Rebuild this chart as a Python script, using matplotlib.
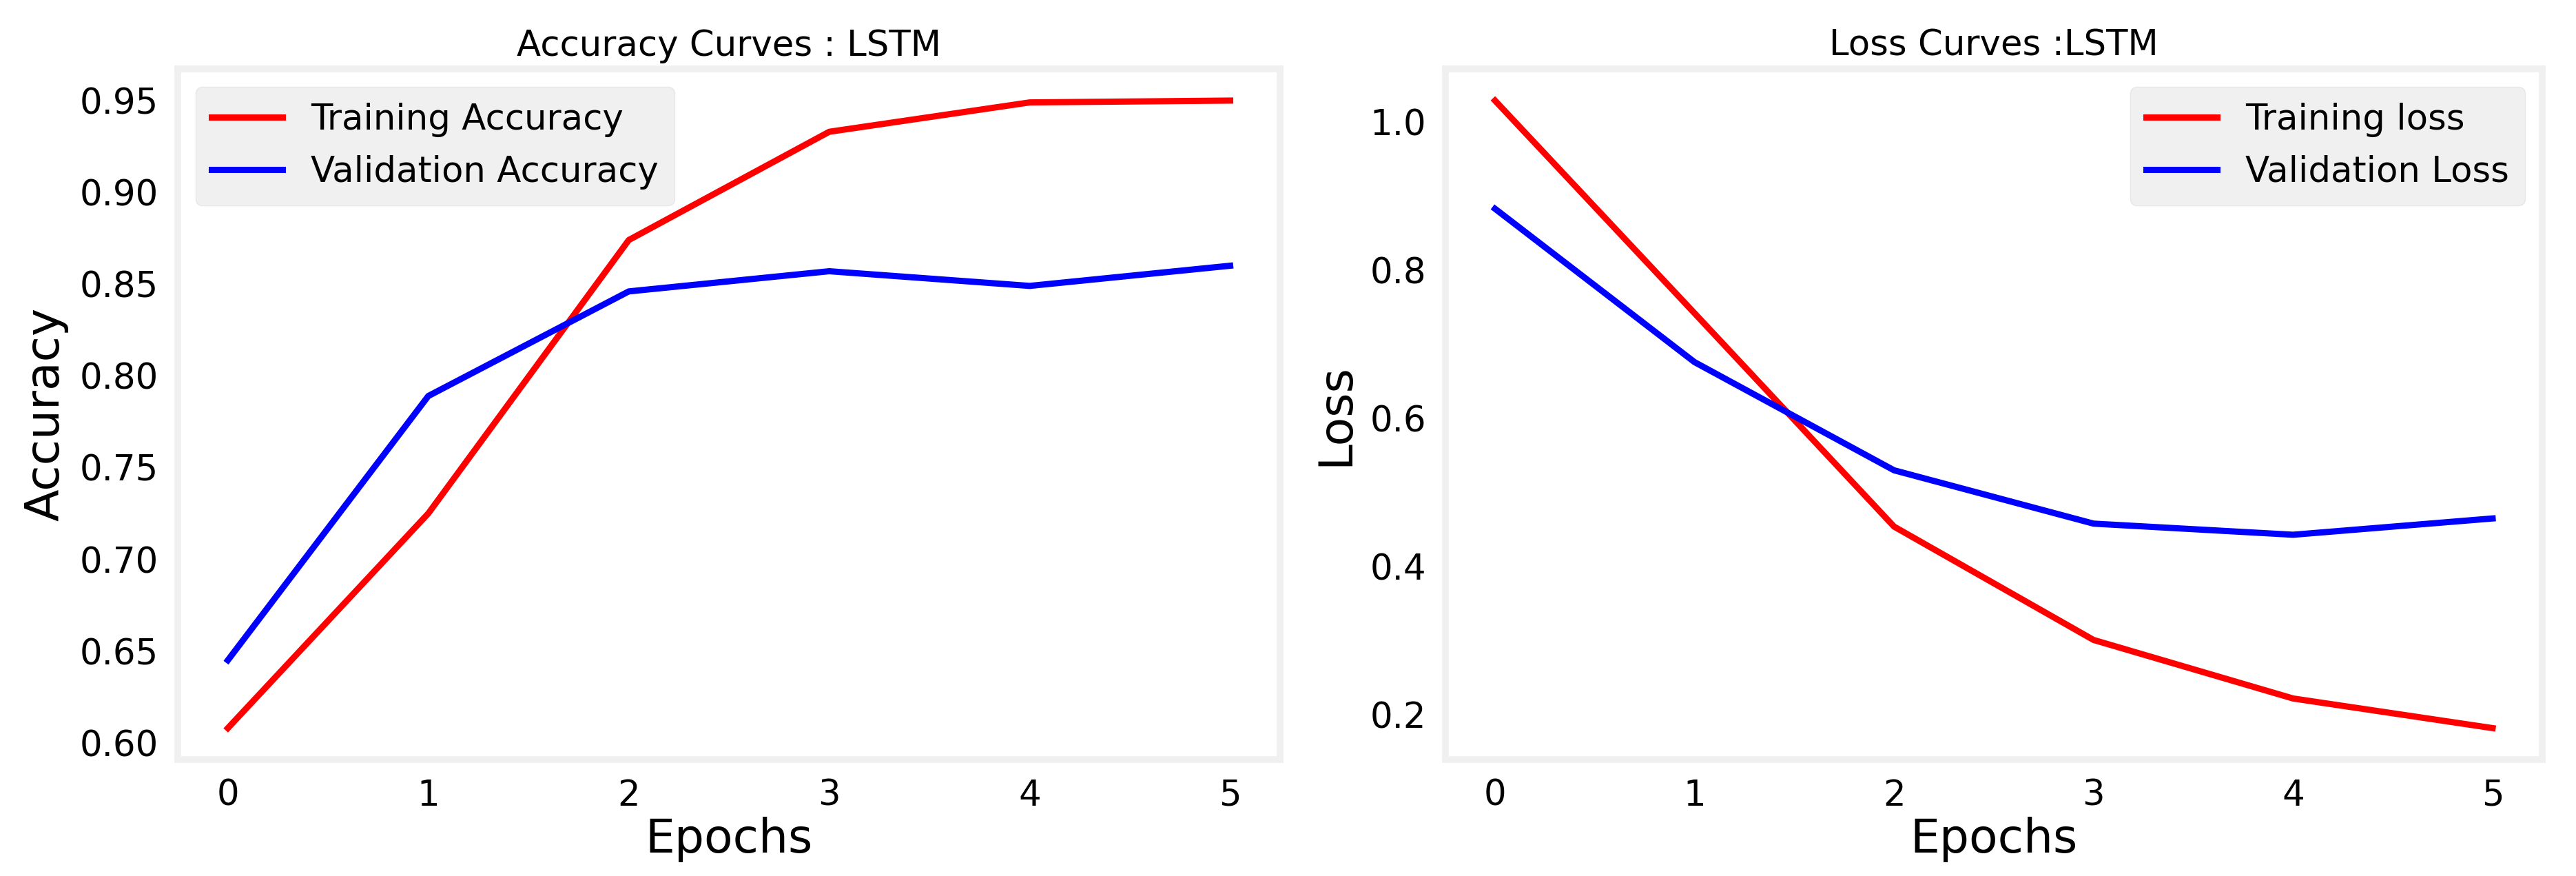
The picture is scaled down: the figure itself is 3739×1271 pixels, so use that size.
import matplotlib
matplotlib.use('Agg')
import matplotlib.pyplot as plt

epochs = [0, 1, 2, 3, 4, 5]
train_acc = [0.608, 0.725, 0.874, 0.933, 0.949, 0.950]
val_acc = [0.645, 0.789, 0.846, 0.857, 0.849, 0.860]
train_loss = [1.029, 0.742, 0.454, 0.301, 0.222, 0.182]
val_loss = [0.883, 0.676, 0.530, 0.458, 0.443, 0.465]

plt.rcParams['font.family'] = ['DejaVu Sans']
fig = plt.figure(figsize=(37.39, 12.71), dpi=100, facecolor='white')
ax1 = fig.add_axes([0.069, 0.133, 0.428, 0.788])
ax2 = fig.add_axes([0.561, 0.133, 0.426, 0.788])

def style(ax):
    ax.set_facecolor('white')
    for s in ax.spines.values():
        s.set_color('#f0f0f0')
        s.set_linewidth(7)
    ax.tick_params(length=0, labelsize=37, pad=20)
    ax.grid(False)

ax1.plot(epochs, train_acc, color='red', lw=6.5, label='Training Accuracy')
ax1.plot(epochs, val_acc, color='blue', lw=6.5, label='Validation Accuracy')
ax1.set_title('Accuracy Curves : LSTM', fontsize=37, pad=14)
ax1.set_xlabel('Epochs', fontsize=49, labelpad=4)
ax1.set_ylabel('Accuracy', fontsize=49, labelpad=12)
style(ax1)
ax1.legend(loc='upper left', fontsize=37, facecolor='#f0f0f0', edgecolor='#e6e6e6',
           framealpha=1, handlelength=2, borderpad=0.45)

ax2.plot(epochs, train_loss, color='red', lw=6.5, label='Training loss')
ax2.plot(epochs, val_loss, color='blue', lw=6.5, label='Validation Loss')
ax2.set_title('Loss Curves :LSTM', fontsize=37, pad=14)
ax2.set_xlabel('Epochs', fontsize=49, labelpad=4)
ax2.set_ylabel('Loss', fontsize=49, labelpad=12)
style(ax2)
ax2.legend(loc='upper right', fontsize=37, facecolor='#f0f0f0', edgecolor='#e6e6e6',
           framealpha=1, handlelength=2, borderpad=0.45)

fig.savefig('out.png', dpi=100, facecolor='white')
